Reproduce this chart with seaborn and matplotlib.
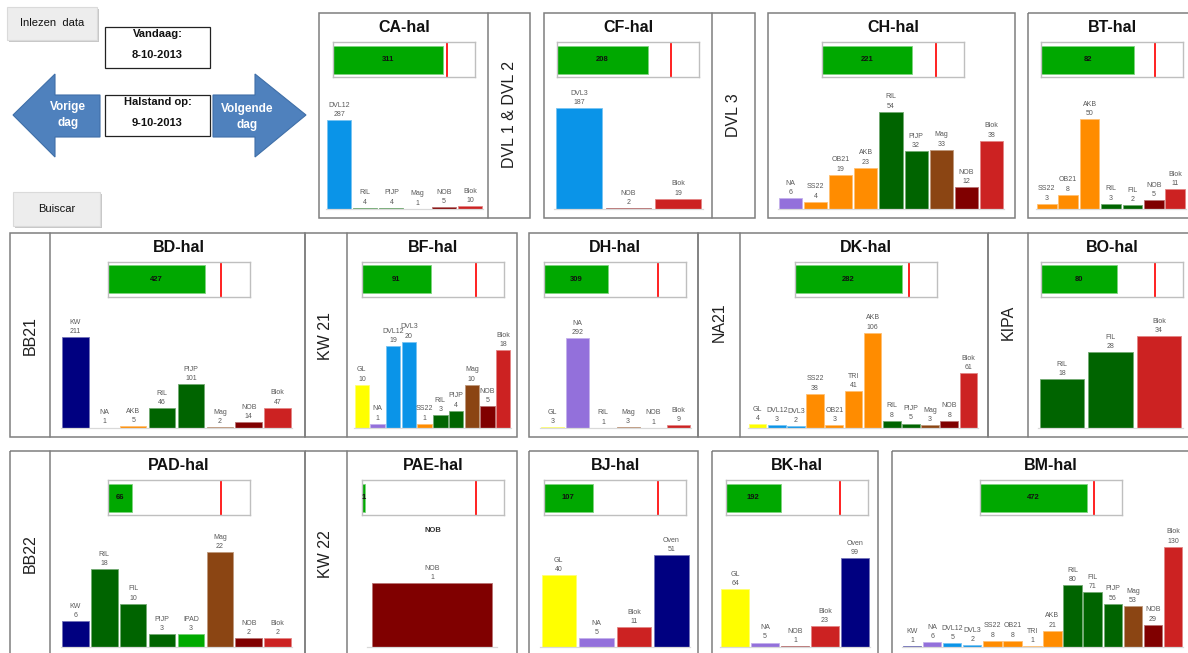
import numpy as np
import matplotlib
matplotlib.use("Agg")
import matplotlib.pyplot as plt
from matplotlib.patches import Rectangle, Polygon
from matplotlib.colors import to_rgb
import seaborn as sns

# ---------------------------------------------------------------- data
ca_cats = ["DVL12", "RIL", "PIJP", "Mag", "NOB", "Blok"]
ca_vals = [287, 4, 4, 1, 5, 10]
cf_cats = ["DVL3", "NOB", "Blok"]
cf_vals = [187, 2, 19]
ch_cats = ["NA", "SS22", "OB21", "AKB", "RIL", "PIJP", "Mag", "NOB", "Blok"]
ch_vals = [6, 4, 19, 23, 54, 32, 33, 12, 38]
bt_cats = ["SS22", "OB21", "AKB", "RIL", "FIL", "NOB", "Blok"]
bt_vals = [3, 8, 50, 3, 2, 5, 11]
bd_cats = ["KW", "NA", "AKB", "RIL", "PIJP", "Mag", "NOB", "Blok"]
bd_vals = [211, 1, 5, 46, 101, 2, 14, 47]
bf_cats = ["GL", "NA", "DVL12", "DVL3", "SS22", "RIL", "PIJP", "Mag", "NOB", "Blok"]
bf_vals = [10, 1, 19, 20, 1, 3, 4, 10, 5, 18]
dh_cats = ["GL", "NA", "RIL", "Mag", "NOB", "Blok"]
dh_vals = [3, 292, 1, 3, 1, 9]
dk_cats = ["GL", "DVL12", "DVL3", "SS22", "OB21", "TRI", "AKB", "RIL", "PIJP", "Mag", "NOB", "Blok"]
dk_vals = [4, 3, 2, 38, 3, 41, 106, 8, 5, 3, 8, 61]
bo_cats = ["RIL", "FIL", "Blok"]
bo_vals = [18, 28, 34]
pad_cats = ["KW", "RIL", "FIL", "PIJP", "IPAD", "Mag", "NOB", "Blok"]
pad_vals = [6, 18, 10, 3, 3, 22, 2, 2]
pae_cats = ["NOB"]
pae_vals = [1]
bj_cats = ["GL", "NA", "Blok", "Oven"]
bj_vals = [40, 5, 11, 51]
bk_cats = ["GL", "NA", "NOB", "Blok", "Oven"]
bk_vals = [64, 5, 1, 23, 99]
bm_cats = ["KW", "NA", "DVL12", "DVL3", "SS22", "OB21", "TRI", "AKB",
           "RIL", "FIL", "PIJP", "Mag", "NOB", "Blok"]
bm_vals = [1, 6, 5, 2, 8, 8, 1, 21, 80, 71, 56, 53, 29, 130]

hall_names = ["CA-hal", "CF-hal", "CH-hal", "BT-hal", "BD-hal", "BF-hal", "DH-hal",
              "DK-hal", "BO-hal", "PAD-hal", "PAE-hal", "BJ-hal", "BK-hal", "BM-hal"]
hall_totals = [311, 208, 221, 82, 427, 91, 309, 282, 80, 66, 1, 107, 192, 472]
hall_capacity = [320, 260, 280, 100, 500, 150, 550, 300, 120, 300, 40, 250, 400, 500]

group_labels = ["DVL 1 & DVL 2", "DVL 3", "BB21", "KW 21", "NA21", "KIPA", "BB22", "KW 22"]

today_label = "8-10-2013"
status_label = "9-10-2013"

# colour per storage type
type_colors = {
    "DVL12": "#0A94E8", "DVL3": "#0A94E8",
    "RIL": "#006400", "PIJP": "#006400", "FIL": "#006400",
    "Mag": "#8B4513", "NOB": "#800000", "Blok": "#CC2222",
    "NA": "#9370DB",
    "SS22": "#FF8C00", "OB21": "#FF8C00", "AKB": "#FF8C00", "TRI": "#FF8C00",
    "KW": "#000080", "Oven": "#000080", "GL": "#FFFF00", "IPAD": "#00AA00",
}
GAUGE_GREEN = "#00A800"

# ---------------------------------------------------------------- setup
sns.set_theme(style="white")
plt.rcParams["font.family"] = ["Liberation Sans", "DejaVu Sans"]

W, H = 1188, 653
fig = plt.figure(figsize=(W / 100, H / 100), dpi=100)
fig.patch.set_facecolor("white")

ov = fig.add_axes([0, 0, 1, 1])
ov.set_xlim(0, W)
ov.set_ylim(H, 0)
ov.axis("off")


def px_axes(x0, y0, x1, y1):
    a = fig.add_axes([x0 / W, 1 - y1 / H, (x1 - x0) / W, (y1 - y0) / H])
    a.patch.set_alpha(0)
    return a


def tint(c, f=0.45):
    r, g, b = to_rgb(c)[:3]
    return (r + (1 - r) * f, g + (1 - g) * f, b + (1 - b) * f)


def nice_axis_max(m):
    top = m * 1.05
    for k in range(-2, 5):
        for s in (1, 2, 5):
            unit = s * 10 ** k
            if top / unit <= 8:
                return np.ceil(top / unit) * unit
    return top


def frame(x0, y0, x1, y1, lw=1.1, color="#7F7F7F"):
    ov.add_patch(Rectangle((x0, y0), x1 - x0, y1 - y0, fill=False,
                           edgecolor=color, lw=lw))


# ---------------------------------------------------------------- controls
def button(x0, y0, x1, y1, text):
    ov.add_patch(Rectangle((x0 + 1.5, y0 + 1.5), x1 - x0, y1 - y0,
                           facecolor="#C8C8C8", edgecolor="none"))
    ov.add_patch(Rectangle((x0, y0), x1 - x0, y1 - y0,
                           facecolor="#EDEDED", edgecolor="#DADADA", lw=0.8))
    ov.text((x0 + x1) / 2, (y0 + y1) / 2, text, ha="center", va="center",
            fontsize=8, color="#111111")


button(7, 7, 97, 40, "Inlezen  data")
button(13, 192, 100, 226, "Buiscar")

for (y0, y1, head, value) in [(27, 68, "Vandaag:", today_label),
                              (95, 136, "Halstand op:", status_label)]:
    ov.add_patch(Rectangle((105, y0), 105, y1 - y0, facecolor="white",
                           edgecolor="#222222", lw=0.9))
    ov.text(157.5, y0 + 7, head, ha="center", va="center",
            fontsize=8, fontweight="bold", color="#111111")
    ov.text(157.5, y0 + 28, value, ha="center", va="center",
            fontsize=8, fontweight="bold", color="#111111")

left_arrow = [(13, 115), (55, 74), (55, 95), (100, 95), (100, 137), (55, 137), (55, 157)]
right_arrow = [(213, 95), (255, 95), (255, 74), (306, 115), (255, 157), (255, 137), (213, 137)]
for pts in (left_arrow, right_arrow):
    ov.add_patch(Polygon(pts, closed=True, facecolor="#4F81BD",
                         edgecolor="#3F6FA8", lw=0.8))
ov.text(68, 115, "Vorige\ndag", ha="center", va="center", fontsize=8.5,
        fontweight="bold", color="white", linespacing=1.35)
ov.text(247, 117, "Volgende\ndag", ha="center", va="center", fontsize=8.5,
        fontweight="bold", color="white", linespacing=1.35)

# ---------------------------------------------------------------- panel frames
ROW_TOP = [13, 233, 451]
ROW_BOT = [218, 437, 657]
ROW_BASE = [209, 428, 647]

# (row, x0, x1, divider or None)
frames = [
    (0, 319, 530, 488), (0, 544, 755, 712), (0, 768, 1015, None), (0, 1028, 1196, None),
    (1, 10, 305, 50), (1, 305, 517, 347), (1, 529, 698, None), (1, 698, 988, 740),
    (1, 988, 1196, 1028),
    (2, 10, 305, 50), (2, 305, 517, 347), (2, 529, 698, None), (2, 712, 878, None),
    (2, 892, 1215, None),
]
for r, x0, x1, d in frames:
    frame(x0, ROW_TOP[r], x1, ROW_BOT[r])
    if d is not None:
        ov.plot([d, d], [ROW_TOP[r], ROW_BOT[r]], color="#7F7F7F", lw=1.1)

# group labels: (label, x centre, y centre)
group_pos = [(509, 115), (733.5, 115), (30, 336), (326, 336), (719, 322),
             (1008, 322), (30, 554), (326, 554)]
for lab, (gx, gy) in zip(group_labels, group_pos):
    ov.text(gx, gy, lab, rotation=90, ha="center", va="center",
            fontsize=11.5, color="#202020")

# ---------------------------------------------------------------- hall charts
hall_cats = [ca_cats, cf_cats, ch_cats, bt_cats, bd_cats, bf_cats, dh_cats,
             dk_cats, bo_cats, pad_cats, pae_cats, bj_cats, bk_cats, bm_cats]
hall_vals = [ca_vals, cf_vals, ch_vals, bt_vals, bd_vals, bf_vals, dh_vals,
             dk_vals, bo_vals, pad_vals, pae_vals, bj_vals, bk_vals, bm_vals]

# (row, plot x0, plot x1, title/gauge centre)
hall_layout = [
    (0, 326, 483, 404), (0, 554, 703, 628), (0, 778, 1004, 893), (0, 1036, 1186, 1112),
    (1, 61, 292, 178.5), (1, 354, 511, 433), (1, 540, 691, 615), (1, 748, 978, 866),
    (1, 1038, 1183, 1112),
    (2, 61, 292, 178.5), (2, 367, 497, 433), (2, 540, 690, 615), (2, 720, 870, 797),
    (2, 902, 1183, 1051),
]

for i, name in enumerate(hall_names):
    r, px0, px1, cx = hall_layout[i]
    top, base = ROW_TOP[r], ROW_BASE[r]
    cats, vals = hall_cats[i], hall_vals[i]

    ov.text(cx, top + 14, name, ha="center", va="center", fontsize=11.5,
            fontweight="bold", color="#111111")

    # occupancy gauge
    gx = px_axes(cx - 71, top + 29, cx + 71, top + 64)
    sns.barplot(x=[hall_totals[i]], y=[name], orient="h", color=GAUGE_GREEN,
                width=0.8, saturation=1, ax=gx)
    cap = hall_capacity[i]
    gx.set_xlim(0, cap * 1.25)
    gx.set_ylim(0.5, -0.5)
    gx.set(xlabel="", ylabel="", xticks=[], yticks=[])
    for sp in gx.spines.values():
        sp.set_visible(True)
        sp.set_color("#BFBFBF")
        sp.set_linewidth(1.0)
    for p in gx.patches:
        p.set_edgecolor(tint(GAUGE_GREEN, 0.5))
        p.set_linewidth(0.6)
    gx.axvline(cap, color="#FF2020", lw=1.4)
    gx.text(hall_totals[i] / 2, 0, str(hall_totals[i]), ha="center", va="center",
            fontsize=5.5, fontweight="bold", color="#111111")

    # stock per storage type
    plot_h = 108
    if len(cats) == 1:
        plot_h = 77
        ov.text(cx, top + 79, cats[0], ha="center", va="center", fontsize=5.5,
                fontweight="bold", color="#333333")
    ax = px_axes(px0, base - plot_h, px1, base)
    sns.barplot(x=cats, y=vals, hue=cats, palette=type_colors, order=cats,
                hue_order=cats, width=0.92, saturation=1, legend=False, ax=ax)
    ax.set_xlim(-0.5, len(cats) - 0.5)
    ax.set_ylim(0, nice_axis_max(max(vals)))
    ax.set(xlabel="", ylabel="", xticks=[], yticks=[])
    for side in ("top", "left", "right"):
        ax.spines[side].set_visible(False)
    ax.spines["bottom"].set_color("#D9D9D9")
    ax.spines["bottom"].set_linewidth(0.9)
    for p in ax.patches:
        p.set_edgecolor(tint(p.get_facecolor(), 0.45))
        p.set_linewidth(0.6)
    for j, (c, v) in enumerate(zip(cats, vals)):
        ax.annotate(f"{c}\n{v}", (j, v), xytext=(0, 1.5), textcoords="offset points",
                    ha="center", va="bottom", fontsize=5, color="#595959",
                    linespacing=1.45, annotation_clip=False)

fig.savefig("out.png", dpi=100, facecolor="white")
